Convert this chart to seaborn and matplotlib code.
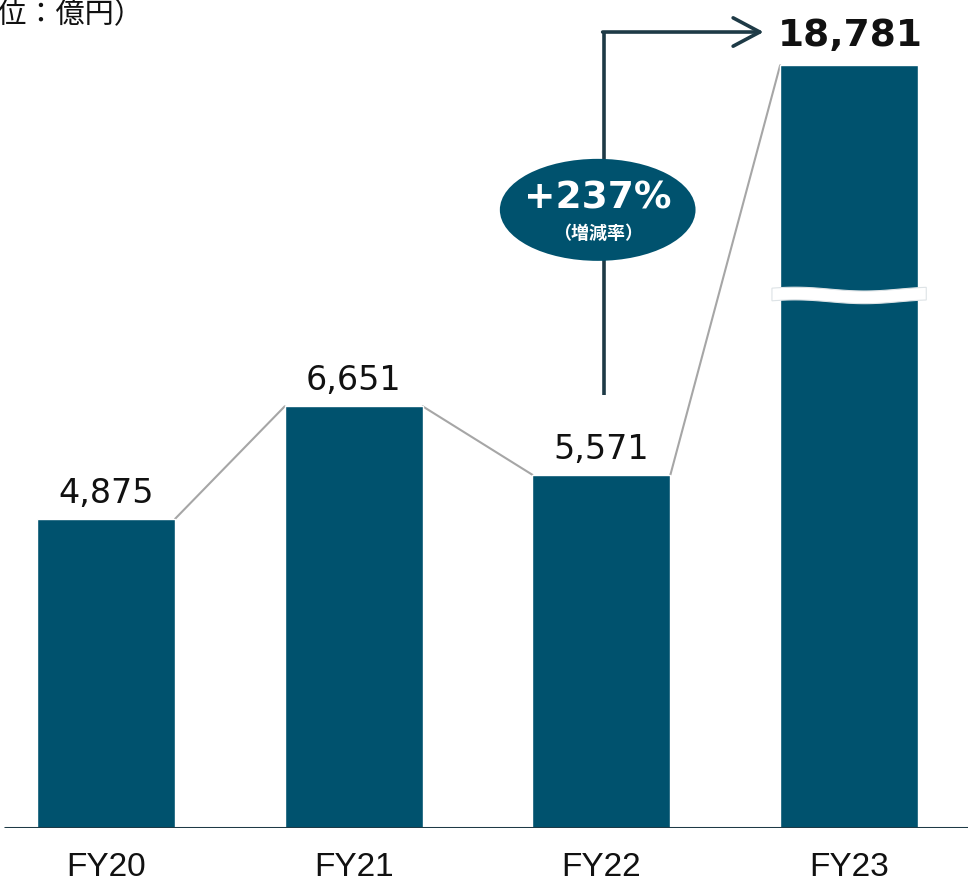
import numpy as np
import pandas as pd
import matplotlib
matplotlib.use("Agg")
import matplotlib.pyplot as plt
import seaborn as sns
from matplotlib.patches import Ellipse, Polygon

# ---- data ----
categories = ["FY20", "FY21", "FY22", "FY23"]
values = [4875, 6651, 5571, 18781]
value_labels = ["4,875", "6,651", "5,571", "18,781"]
growth_label = "+237%"
growth_sub = "（増減率）"
unit_label = "（単位：億円）"

# broken-axis display cap for the tallest bar
display_cap = 12030
break_at = 8400

bar_color = "#00526E"
dark = "#1E3A46"
gray = "#A6A6A6"

display = [min(v, display_cap) for v in values]
df = pd.DataFrame({"cat": categories, "val": display})

sns.set_theme(style="white")
plt.rcParams["font.family"] = ["DejaVu Sans", "Noto Sans CJK JP"]

fig = plt.figure(figsize=(9.68, 8.81), dpi=100)
ax = fig.add_axes([0, 53 / 881, 1, 828 / 881])

w = 0.557
sns.barplot(data=df, x="cat", y="val", color=bar_color, width=w, ax=ax,
            saturation=1, zorder=2)

ax.set_xlim(-0.428, 3.480)
ax.set_ylim(0, 13060)
for s in ax.spines.values():
    s.set_visible(False)
ax.set_yticks([])
ax.set_xlabel("")
ax.set_ylabel("")
ax.tick_params(axis="x", length=0, pad=17)
ax.set_xticks(range(len(categories)))
ax.set_xticklabels(categories, fontsize=24, color="#111111",
                   family=["Liberation Sans"])
ax.axhline(0, xmin=5 / 968, xmax=1, color=dark, lw=2.2, zorder=3)

# connectors
for i in range(len(display) - 1):
    ax.plot([i + w / 2, i + 1 - w / 2], [display[i], display[i + 1]],
            color=gray, lw=1.5, zorder=1)

# value labels
for i, (d, lab) in enumerate(zip(display, value_labels)):
    last = i == len(display) - 1
    ax.annotate(lab, (i, d), xytext=(1 if last else 0, 14 if last else 11.5),
                textcoords="offset points", ha="center", va="baseline",
                fontsize=27 if last else 24,
                fontweight="bold" if last else "normal", color="#111111")

# break mark
i = len(display) - 1
xs = np.linspace(i - w / 2 - 0.033, i + w / 2 + 0.033, 80)
t = (xs - xs[0]) / (xs[-1] - xs[0])
wave = 30 * np.cos(2 * np.pi * (t - 0.15) / 0.9)
top = break_at + 100 + wave
bot = break_at - 100 + wave
pts = np.vstack([np.column_stack([xs, top]), np.column_stack([xs[::-1], bot[::-1]])])
ax.add_patch(Polygon(pts, closed=True, facecolor="white", edgecolor="#DDE3E6",
                     lw=0.8, zorder=4))

# growth arrow
gx = 2.01
y_low = 6830
y_high = 12555
ax.plot([gx, gx], [y_low, y_high], color=dark, lw=2.6, zorder=5,
        solid_capstyle="butt")
ax.annotate("", xy=(2.655, y_high), xytext=(gx - 0.005, y_high),
            arrowprops=dict(arrowstyle="->,head_length=1.6,head_width=0.85",
                            lw=2.6, color=dark, shrinkA=0, shrinkB=0),
            zorder=5)

ell_x = 1.985
ell_y = 9750
ax.add_patch(Ellipse((ell_x, ell_y), 0.79, 1609, facecolor=bar_color,
                     edgecolor="none", zorder=6))
ax.text(ell_x, ell_y + 180, growth_label, ha="center", va="center",
        fontsize=27, fontweight="bold", color="white", zorder=7)
ax.text(ell_x, ell_y - 380, growth_sub, ha="center", va="center",
        fontsize=13, fontweight="bold", color="white", zorder=7,
        family=["Noto Sans CJK JP"])

fig.text(-60 / 968, 1 - 15 / 881, unit_label, ha="left", va="center",
         fontsize=21, color="#111111", family=["Noto Sans CJK JP"])

fig.savefig("out.png", dpi=100)
